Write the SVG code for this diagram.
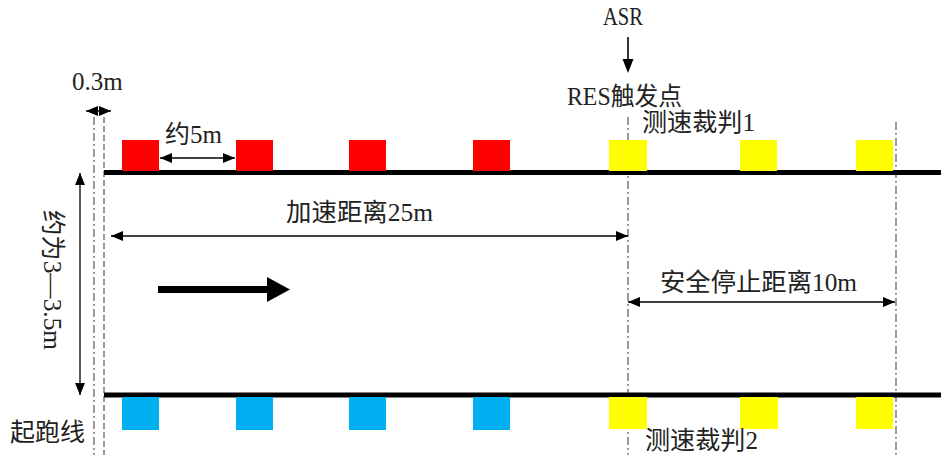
<svg xmlns="http://www.w3.org/2000/svg" width="941" height="455" viewBox="0 0 941 455">
<style>
text{font-family:"Liberation Serif","Noto Sans CJK SC",serif;font-size:25px;fill:#222}
.track{stroke:#000;stroke-width:5}
.guide{stroke:#666;stroke-width:1.3;stroke-dasharray:8 3 2 3;fill:none}
.guide2{stroke:#666;stroke-width:1.3;stroke-dasharray:6 3;fill:none}
.dim{stroke:#000;stroke-width:1.3;fill:none;marker-start:url(#ah);marker-end:url(#ah)}
.red{fill:#FF0000}.yel{fill:#FFFF00}.blue{fill:#00B0F0}
</style>
<defs>
<marker id="ah" viewBox="0 0 12 10" refX="12" refY="5" markerWidth="12" markerHeight="10" markerUnits="userSpaceOnUse" orient="auto-start-reverse">
<path d="M0,0 L12,5 L0,10 Z" fill="#000"/>
</marker>
</defs>
<rect width="941" height="455" fill="#fff"/>
<g id="guides">
<line class="guide" x1="94" y1="117" x2="94" y2="455"/>
<line class="guide2" x1="104" y1="117" x2="104" y2="455"/>
<line class="guide" x1="628" y1="117" x2="628" y2="455"/>
<line class="guide" x1="896" y1="122" x2="896" y2="455"/>
</g>
<g id="tracks">
<line class="track" x1="104" y1="172.5" x2="941" y2="172.5"/>
<line class="track" x1="104" y1="395" x2="941" y2="395"/>
</g>
<g id="cones-top">
<rect class="red" x="122" y="140" width="37" height="31"/>
<rect class="red" x="236" y="140" width="37" height="31"/>
<rect class="red" x="349" y="140" width="37" height="31"/>
<rect class="red" x="473" y="140" width="37" height="31"/>
<rect class="yel" x="609" y="140" width="38" height="31"/>
<rect class="yel" x="740" y="140" width="37" height="31"/>
<rect class="yel" x="856" y="140" width="37" height="31"/>
</g>
<g id="cones-bottom">
<rect class="blue" x="122" y="397" width="37" height="33"/>
<rect class="blue" x="236" y="397" width="37" height="33"/>
<rect class="blue" x="349" y="397" width="37" height="33"/>
<rect class="blue" x="473" y="397" width="37" height="33"/>
<rect class="yel" x="609" y="397" width="38" height="32"/>
<rect class="yel" x="740" y="397" width="38" height="32"/>
<rect class="yel" x="856" y="397" width="37" height="32"/>
</g>
<g id="connectors">
<line class="dim" x1="86" y1="111" x2="111" y2="111"/>
<line class="dim" x1="160" y1="158" x2="235" y2="158"/>
<line class="dim" x1="111" y1="236" x2="628" y2="236"/>
<line class="dim" x1="628" y1="302" x2="895" y2="302"/>
<line class="dim" x1="80" y1="173" x2="80" y2="395"/>
<line x1="628" y1="37" x2="628" y2="62" stroke="#000" stroke-width="1.6"/>
<path d="M622.5,59 L633.5,59 L628,73 Z" fill="#000"/>
<path d="M158,286 L267,286 L267,277 L290,289.5 L267,302 L267,293 L158,293 Z" fill="#000"/>
</g>
<g id="label-asr"><text x="603" y="25" font-size="26" textLength="40" lengthAdjust="spacingAndGlyphs">ASR</text></g>
<g id="label-res"><text x="567" y="105" font-size="26" textLength="115" lengthAdjust="spacingAndGlyphs">RES触发点</text></g>
<g id="label-judge1"><text x="642" y="131" font-size="26" textLength="113" lengthAdjust="spacingAndGlyphs">测速裁判1</text></g>
<g id="label-03"><text x="72" y="90" font-size="24">0.3m</text></g>
<g id="label-5m"><text x="165" y="143">约5m</text></g>
<g id="label-accel"><text x="286" y="221" textLength="147" lengthAdjust="spacingAndGlyphs">加速距离25m</text></g>
<g id="label-stop"><text x="660" y="291" textLength="197" lengthAdjust="spacingAndGlyphs">安全停止距离10m</text></g>
<g id="label-judge2"><text x="645" y="449" font-size="26" textLength="113" lengthAdjust="spacingAndGlyphs">测速裁判2</text></g>
<g id="label-start"><text x="10" y="441">起跑线</text></g>
<g id="label-width"><text transform="translate(44,210) rotate(90)" textLength="140" lengthAdjust="spacingAndGlyphs">约为3—3.5m</text></g>
</svg>
